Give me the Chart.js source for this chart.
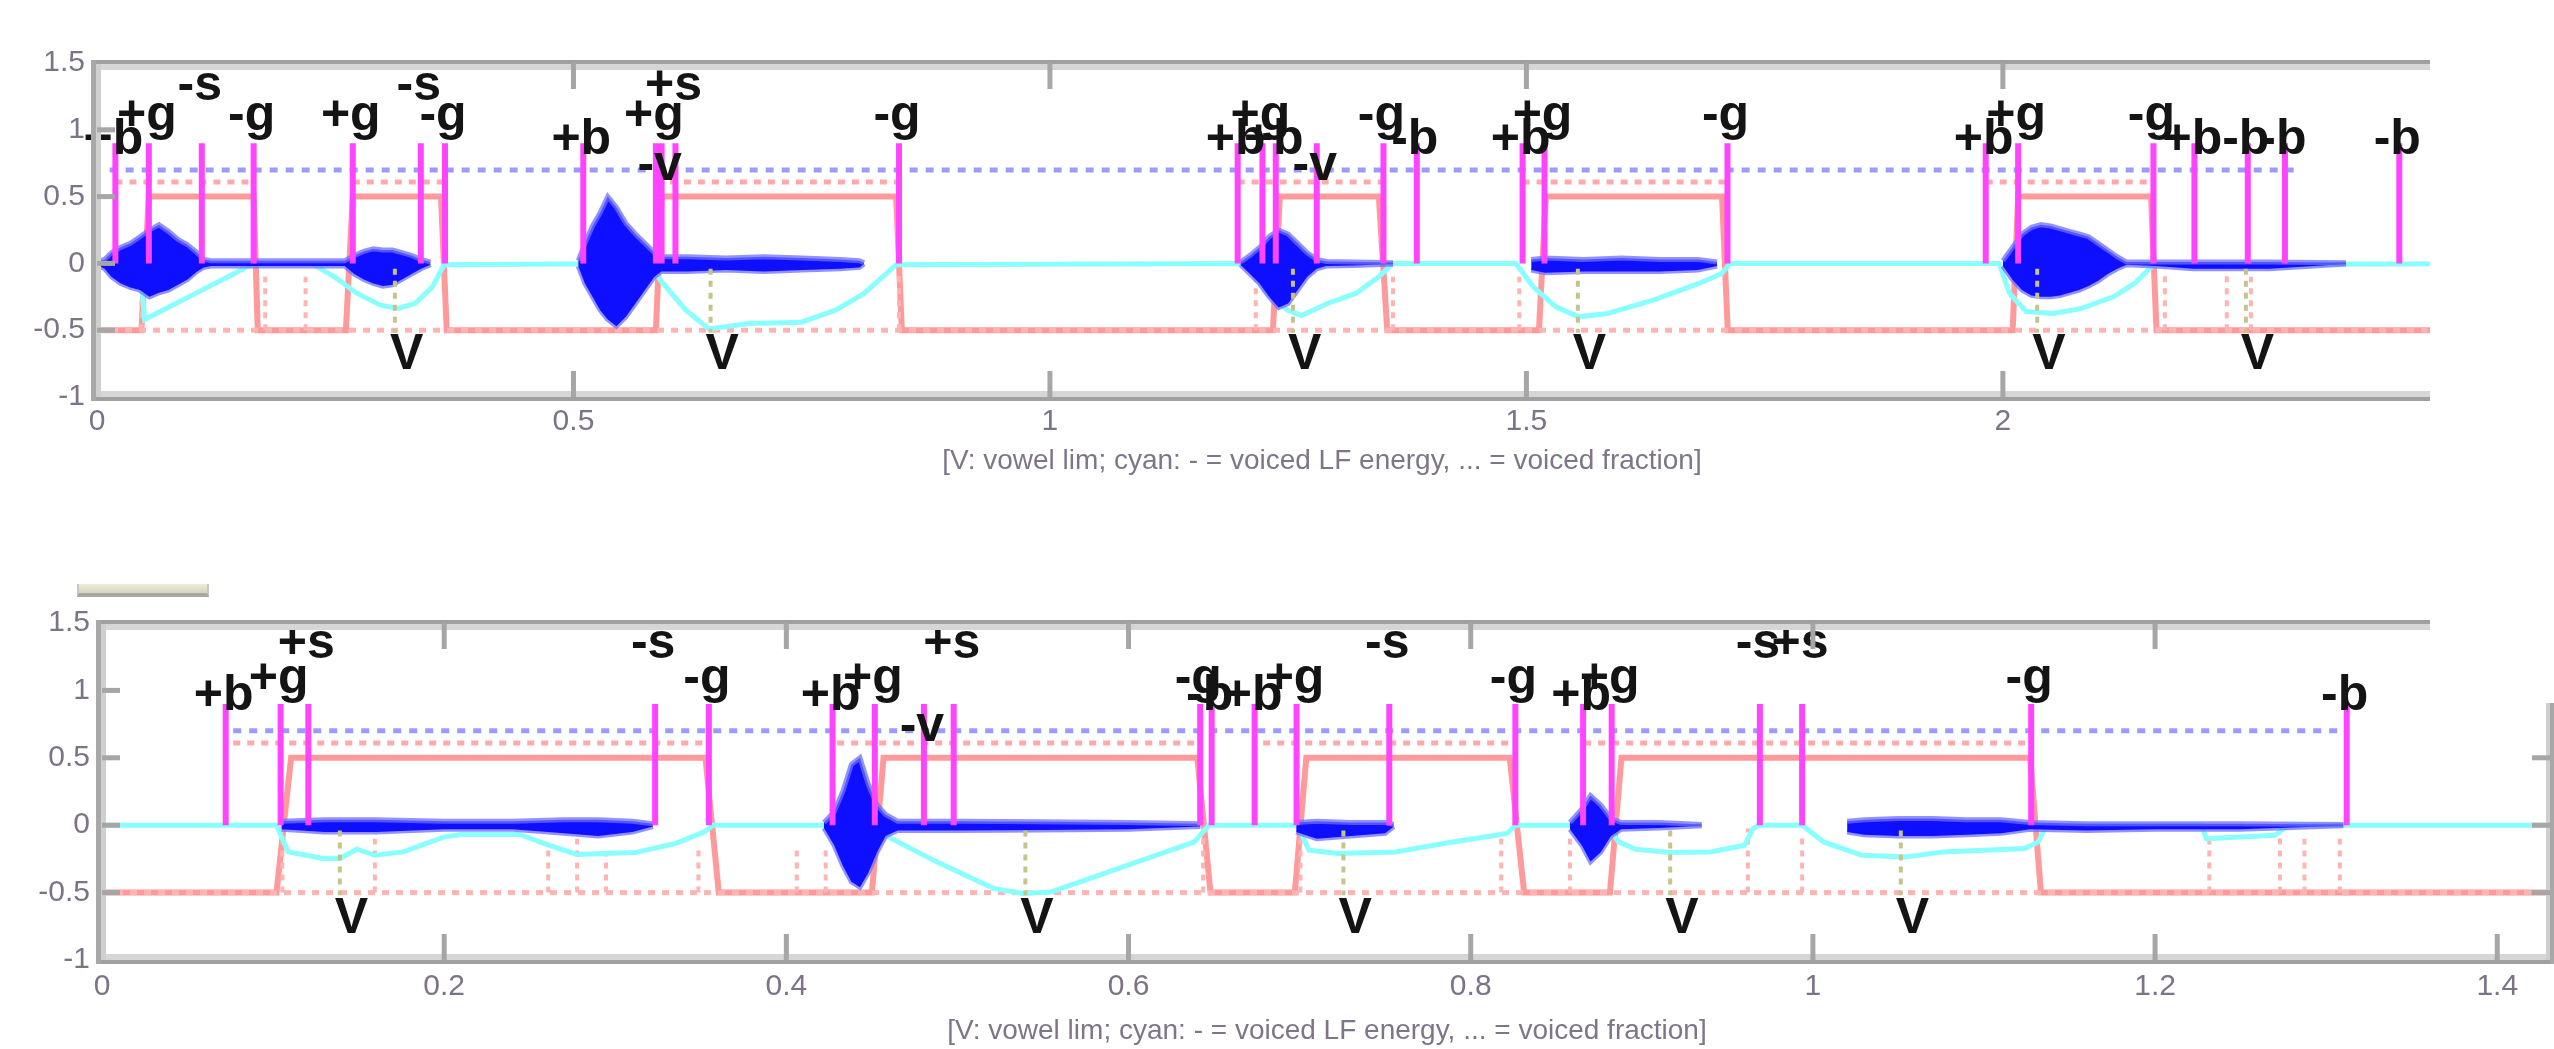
<!DOCTYPE html>
<html><head><meta charset="utf-8">
<script src="https://cdn.jsdelivr.net/npm/chart.js@4.4.1/dist/chart.umd.min.js"></script>
<style>
html,body{margin:0;padding:0;background:#fff;width:2554px;height:1049px;overflow:hidden;position:relative;}
canvas{position:absolute;left:0;}
#c1{top:0;}
#c2{top:520px;}
#mask{position:absolute;left:2430px;top:0;width:124px;height:703px;background:#fff;}
#stub{position:absolute;left:77px;top:584px;width:128px;height:9px;background:linear-gradient(#ececd8,#d4d4c0);border-bottom:4px solid #a8a8a0;border-left:2px solid #c8c8c0;border-right:2px solid #c8c8c0;}
</style></head><body>
<canvas id="c1" width="2554" height="520"></canvas>
<canvas id="c2" width="2554" height="529"></canvas>
<div id="mask"></div><div id="stub"></div>
<script>
// ---------------- data ----------------
const topXTicks = [0, 0.5, 1, 1.5, 2, 2.5];
const botXTicks = [0, 0.2, 0.4, 0.6, 0.8, 1, 1.2, 1.4];
const yTicks = [-1, -0.5, 0, 0.5, 1, 1.5];
const xTitle = '[V: vowel lim; cyan: - = voiced LF energy, ... = voiced fraction]';

const landmarkTop = 0.9;
const refLevel = 0.7;      // blue dotted
const voiceLevel = 0.61;   // red dotted upper
const fracLow = -0.5;      // red dotted lower

// top panel landmarks
const topLmX = [0.0193, 0.0544, 0.110, 0.1644, 0.2684, 0.3398, 0.3652, 0.5103, 0.5865, 0.5925, 0.607, 0.8416,
  1.197, 1.223, 1.237, 1.280, 1.350, 1.385, 1.496, 1.519, 1.711, 1.982, 2.016, 2.158, 2.201, 2.257, 2.296, 2.416];
const topLmLabel = ['+b','+g','-s','-g','+g','-s','-g','+b','+g','-v','+s','-g',
  '+b','+g','+b','-v','-g','-b','+b','+g','-g','+b','+g','-g','+b','-b','-b','-b'];
const topVX = [0.3126, 0.6439, 1.255, 1.554, 2.036, 2.255];
const topRefX = [0.0133, 2.306];
const topVoiceSeg = [[0.0193,0.1644],[0.2684,0.3652],[0.5865,0.8416],[1.197,1.351],[1.496,1.711],[1.982,2.158]];
const topStepX = [0, 0.0466, 0.0544, 0.1644, 0.1687, 0.2612, 0.2684, 0.361, 0.367, 0.5865, 0.5925, 0.8386, 0.8446,
  1.234, 1.2413, 1.3451, 1.354, 1.5132, 1.5204, 1.7053, 1.7113, 2.0103, 2.016, 2.1555, 2.1612, 2.571];
const topStepY = [-0.5,-0.5,0.5,0.5,-0.5,-0.5,0.5,0.5,-0.5,-0.5,0.5,0.5,-0.5,
  -0.5,0.5,0.5,-0.5,-0.5,0.5,0.5,-0.5,-0.5,0.5,0.5,-0.5,-0.5];
const topLfX = [0, 0.045, 0.05, 0.08, 0.11, 0.14, 0.1644, 0.225, 0.249, 0.273, 0.2975, 0.3156, 0.3337, 0.352, 0.364,
  0.5786, 0.594, 0.618, 0.642, 0.684, 0.739, 0.775, 0.805, 0.8386, 1.207, 1.225, 1.249, 1.264, 1.291, 1.321, 1.345, 1.36,
  1.489, 1.507, 1.531, 1.555, 1.585, 1.633, 1.681, 1.705, 1.714, 1.996, 2.007, 2.0245, 2.053, 2.081, 2.116, 2.138, 2.158, 2.571];
const topLfY = [0, 0, -0.42, -0.31, -0.2, -0.09, 0, 0, -0.1, -0.225, -0.3125, -0.3375, -0.3, -0.175, -0.01,
  0, -0.15, -0.35, -0.49, -0.45, -0.44, -0.35, -0.225, -0.01, 0, -0.2, -0.35, -0.39, -0.3, -0.225, -0.1, 0,
  0, -0.175, -0.325, -0.4, -0.375, -0.275, -0.15, -0.075, 0, 0, -0.225, -0.36, -0.375, -0.34, -0.25, -0.15, -0.01, 0];
const topSpikeX = [0.0466, 0.1765, 0.2189, 0.8416, 1.216, 1.36, 1.4925, 2.17, 2.235, 2.2603];
const topSpikeTop = [-0.25, -0.1, -0.1, -0.08, -0.1, -0.1, -0.1, -0.05, -0.05, -0.1];
const topWaveT = [0, 0.008, 0.015, 0.025, 0.035, 0.045, 0.055, 0.065, 0.075, 0.085, 0.095, 0.105, 0.112, 0.12, 0.16, 0.2, 0.24, 0.26, 0.27, 0.28, 0.29, 0.30, 0.31, 0.32, 0.33, 0.34, 0.35, null,
  0.505, 0.512, 0.52, 0.528, 0.536, 0.545, 0.555, 0.565, 0.575, 0.585, 0.592, 0.62, 0.66, 0.70, 0.74, 0.78, 0.80, 0.805, null,
  1.2, 1.21, 1.22, 1.23, 1.24, 1.25, 1.26, 1.27, 1.28, 1.29, 1.32, 1.36, null,
  1.505, 1.52, 1.56, 1.60, 1.64, 1.68, 1.70, null,
  2.0, 2.01, 2.02, 2.03, 2.04, 2.05, 2.06, 2.07, 2.08, 2.09, 2.1, 2.11, 2.12, 2.13, 2.16, 2.2, 2.28, 2.36];
const topWaveHi = [0.01, 0.03, 0.08, 0.12, 0.15, 0.2, 0.25, 0.29, 0.24, 0.18, 0.14, 0.08, 0.03, 0.02, 0.02, 0.02, 0.02, 0.02, 0.06, 0.09, 0.11, 0.1, 0.1, 0.08, 0.06, 0.03, 0.01, null,
  0.02, 0.15, 0.28, 0.38, 0.5, 0.42, 0.3, 0.22, 0.15, 0.08, 0.05, 0.05, 0.04, 0.05, 0.04, 0.03, 0.02, 0.005, null,
  0.01, 0.06, 0.12, 0.2, 0.25, 0.22, 0.15, 0.08, 0.03, 0.015, 0.01, 0.005, null,
  0.03, 0.04, 0.03, 0.04, 0.03, 0.03, 0.01, null,
  0.02, 0.12, 0.22, 0.27, 0.29, 0.28, 0.26, 0.24, 0.22, 0.2, 0.15, 0.1, 0.05, 0.01, 0.01, 0.01, 0.01, 0.005];
const topWaveLo = [-0.01, -0.04, -0.1, -0.15, -0.18, -0.2, -0.25, -0.22, -0.2, -0.16, -0.12, -0.06, -0.03, -0.02, -0.02, -0.02, -0.02, -0.02, -0.08, -0.12, -0.15, -0.17, -0.16, -0.12, -0.08, -0.04, -0.01, null,
  -0.02, -0.15, -0.25, -0.35, -0.42, -0.47, -0.4, -0.3, -0.2, -0.1, -0.06, -0.06, -0.05, -0.06, -0.05, -0.04, -0.03, -0.005, null,
  -0.01, -0.08, -0.15, -0.25, -0.33, -0.3, -0.2, -0.1, -0.04, -0.02, -0.015, -0.005, null,
  -0.05, -0.07, -0.06, -0.06, -0.06, -0.05, -0.02, null,
  -0.02, -0.12, -0.2, -0.24, -0.25, -0.25, -0.24, -0.22, -0.2, -0.17, -0.13, -0.08, -0.04, -0.01, -0.02, -0.04, -0.04, -0.005];

// bottom panel
const botLmX = [0.0723, 0.1044, 0.1206, 0.3233, 0.3547, 0.427, 0.4517, 0.4804, 0.4978, 0.6419, 0.6486, 0.6737, 0.6982,
  0.7524, 0.8261, 0.8657, 0.8824, 0.969, 0.9937, 1.1276, 1.312];
const botLmLabel = ['+b','+g','+s','-s','-g','+b','+g','-v','+s','-g','-b','+b','+g','-s','-g','+b','+g','-s','+s','-g','-b'];
const botVX = [0.139, 0.5397, 0.7256, 0.9166, 1.0514];
const botRefX = [0.0767, 1.3117];
const botVoiceSeg = [[0.0767,0.3537],[0.4297,0.6419],[0.6787,0.8228],[0.8663,1.127]];
const botStepX = [0, 0.102, 0.1105, 0.3527, 0.3605, 0.45, 0.4568, 0.6402, 0.6479, 0.6972, 0.7039, 0.8228, 0.8312, 0.8814, 0.8881, 1.127, 1.1333, 1.432];
const botStepY = [-0.5,-0.5,0.5,0.5,-0.5,-0.5,0.5,0.5,-0.5,-0.5,0.5,0.5,-0.5,-0.5,0.5,0.5,-0.5,-0.5];
const botLfX = [0, 0.102, 0.1088, 0.129, 0.139, 0.149, 0.1595, 0.176, 0.2, 0.21, 0.244, 0.261, 0.2777, 0.3115, 0.335, 0.352, 0.357,
  0.451, 0.4576, 0.4878, 0.5213, 0.538, 0.5548, 0.5883, 0.6218, 0.6385, 0.6452, 0.647,
  0.6988, 0.7055, 0.7223, 0.7558, 0.7893, 0.8211, 0.8261,
  0.8797, 0.8864, 0.8965, 0.9166, 0.94, 0.9601, 0.965, 0.968,
  0.9937, 1.0063, 1.0286, 1.054, 1.0762, 1.1238, 1.1317, 1.1365,
  1.227, 1.23, 1.25, 1.27, 1.278, 1.432];
const botLfY = [0, 0, -0.198, -0.2475, -0.2475, -0.178, -0.223, -0.198, -0.087, -0.069, -0.069, -0.1485, -0.218, -0.203, -0.136, -0.05, 0,
  0, -0.074, -0.272, -0.47, -0.507, -0.495, -0.347, -0.198, -0.124, -0.025, 0,
  0, -0.186, -0.21, -0.198, -0.124, -0.062, 0,
  0, -0.124, -0.178, -0.203, -0.198, -0.1485, -0.025, 0,
  0, -0.124, -0.223, -0.235, -0.198, -0.173, -0.124, 0,
  0, -0.1, -0.087, -0.074, 0, 0];
const botSpikeX = [0.1054, 0.1595, 0.2608, 0.2777, 0.2946, 0.3486, 0.4061, 0.423, 0.6436, 0.7005, 0.8178, 0.858, 0.962, 0.9937, 1.2317, 1.273, 1.2873, 1.308];
const botSpikeTop = [-0.025, -0.1, -0.15, -0.1, -0.2, -0.15, -0.15, -0.15, -0.025, -0.025, -0.07, -0.1, -0.025, -0.07, -0.1, -0.07, -0.1, -0.1];
const botWaveT = [0.105, 0.13, 0.16, 0.2, 0.24, 0.27, 0.29, 0.31, 0.322, null,
  0.422, 0.428, 0.433, 0.438, 0.443, 0.448, 0.453, 0.458, 0.465, 0.5, 0.55, 0.6, 0.642, null,
  0.698, 0.71, 0.73, 0.75, 0.755, null,
  0.858, 0.865, 0.87, 0.876, 0.882, 0.888, 0.91, 0.935, null,
  1.02, 1.03, 1.05, 1.07, 1.09, 1.11, 1.127, 1.16, 1.2, 1.25, 1.31];
const botWaveHi = [0.03, 0.04, 0.04, 0.03, 0.03, 0.04, 0.04, 0.03, 0.01, null,
  0.02, 0.1, 0.25, 0.45, 0.5, 0.3, 0.15, 0.08, 0.03, 0.03, 0.025, 0.02, 0.01, null,
  0.02, 0.03, 0.02, 0.02, 0.005, null,
  0.02, 0.12, 0.22, 0.15, 0.05, 0.02, 0.02, 0.005, null,
  0.03, 0.04, 0.05, 0.05, 0.04, 0.04, 0.02, 0.01, 0.01, 0.01, 0.005];
const botWaveLo = [-0.03, -0.05, -0.05, -0.03, -0.03, -0.06, -0.08, -0.05, -0.01, null,
  -0.02, -0.15, -0.3, -0.42, -0.46, -0.35, -0.2, -0.08, -0.04, -0.04, -0.035, -0.03, -0.01, null,
  -0.05, -0.1, -0.08, -0.06, -0.01, null,
  -0.03, -0.15, -0.27, -0.2, -0.08, -0.03, -0.02, -0.005, null,
  -0.05, -0.07, -0.08, -0.08, -0.07, -0.06, -0.03, -0.04, -0.03, -0.03, -0.005];

// ---------------- builders ----------------
function pts(xs, ys) { return xs.map((v, i) => ({x: v, y: ys[i]})); }
function vlines(xs, y0, y1s) {
  const p = [];
  xs.forEach((v, i) => { const y1 = Array.isArray(y1s) ? y1s[i] : y1s; p.push({x: v, y: y0}, {x: v, y: y1}, {x: v, y: null}); });
  return p;
}
function hsegs(segs, yv) {
  const p = [];
  segs.forEach(s => { p.push({x: s[0], y: yv}, {x: s[1], y: yv}, {x: s[1], y: null}); });
  return p;
}
function waveSets(t, hi, lo) {
  const out = []; let h = [], l = [];
  const flush = () => {
    if (h.length) {
      out.push({data: h, fill: '+1', backgroundColor: '#0f0fff', borderColor: 'rgba(110,110,255,0.75)', borderWidth: 5, pointRadius: 0, order: 4});
      out.push({data: l, fill: false, borderColor: 'rgba(110,110,255,0.75)', borderWidth: 5, pointRadius: 0, order: 4});
    }
    h = []; l = [];
  };
  for (let i = 0; i < t.length; i++) {
    if (t[i] === null) { flush(); continue; }
    h.push({x: t[i], y: hi[i]}); l.push({x: t[i], y: lo[i]});
  }
  flush();
  return out;
}

function axesPlugin(cfg) {
  return {
    id: 'matlabAxes',
    afterDatasetsDraw(chart) {
      const {ctx, scales: {x, y}} = chart;
      ctx.save();
      ctx.fillStyle = '#141414';
      ctx.font = 'bold 50px "Liberation Sans", Arial, sans-serif';
      ctx.textBaseline = 'middle';
      ctx.textAlign = 'center';
      cfg.lmX.forEach((v, i) => {
        const lab = cfg.lmLabel[i];
        ctx.fillText(lab, x.getPixelForValue(v) - 2, y.getPixelForValue(cfg.tier[lab[1]]));
      });
      ctx.textAlign = 'left';
      cfg.vX.forEach(v => ctx.fillText('V', x.getPixelForValue(v) - 5, y.getPixelForValue(cfg.vTier)));
      ctx.restore();
    },
    afterDraw(chart) {
      const {ctx, chartArea: a, scales: {x, y}} = chart;
      ctx.save();
      const dark = '#a0a0a0', light = '#d6d6d6';
      ctx.fillStyle = dark; ctx.fillRect(a.left - 6, a.top - 3, a.right - a.left + 8, 4);
      ctx.fillStyle = light; ctx.fillRect(a.left, a.top + 1, a.right - a.left, 6);
      ctx.fillStyle = light; ctx.fillRect(a.left, a.bottom - 6, a.right - a.left, 6);
      ctx.fillStyle = dark; ctx.fillRect(a.left - 6, a.bottom, a.right - a.left + 8, 4);
      ctx.fillStyle = '#a8a8a8'; ctx.fillRect(a.left - 6, a.top - 3, 5, a.bottom - a.top + 7);
      ctx.fillStyle = '#cfcfcf'; ctx.fillRect(a.left - 1, a.top + 1, 5, a.bottom - a.top - 1);
      ctx.fillStyle = '#cfcfcf'; ctx.fillRect(a.right - 6, a.top + 1, 4, a.bottom - a.top - 1);
      ctx.fillStyle = '#a8a8a8'; ctx.fillRect(a.right - 2, a.top - 3, 4, a.bottom - a.top + 7);
      ctx.fillStyle = '#a6a6a6';
      cfg.xTicks.forEach(v => {
        if (v <= x.min || v >= x.max) return;
        const px = x.getPixelForValue(v);
        ctx.fillRect(px - 2.5, a.top, 5, 26);
        ctx.fillRect(px - 2.5, a.bottom - 26, 5, 26);
      });
      yTicks.forEach(v => {
        if (v <= y.min || v >= y.max) return;
        const py = y.getPixelForValue(v);
        ctx.fillRect(a.left, py - 2.5, 18, 5);
        ctx.fillRect(a.right - 20, py - 2.5, 18, 5);
      });
      ctx.fillStyle = '#7c7486';
      ctx.font = '30px "Liberation Sans", Arial, sans-serif';
      ctx.textBaseline = 'middle';
      ctx.textAlign = 'center';
      cfg.xTicks.forEach(v => {
        if (v > x.max) return;
        ctx.fillText(String(v), x.getPixelForValue(v), a.bottom + cfg.tickOff);
      });
      ctx.textAlign = 'right';
      yTicks.forEach(v => ctx.fillText(String(v), a.left - 12, y.getPixelForValue(v)));
      ctx.fillStyle = '#7e7688';
      ctx.font = '28px "Liberation Sans", Arial, sans-serif';
      ctx.textAlign = 'center';
      ctx.fillText(xTitle, (a.left + a.right) / 2, a.bottom + cfg.titleOff);
      ctx.restore();
    }
  };
}

function makeChart(id, cfg) {
  const datasets = [
    {data: vlines(cfg.lmX, 0, landmarkTop), borderColor: '#ff44ff', borderWidth: 6, pointRadius: 0, order: 0},
    {data: vlines(cfg.vX, -0.04, -0.52), borderColor: '#c4c48c', borderWidth: 4, borderDash: [6, 6], pointRadius: 0, order: 1},
    {data: hsegs([cfg.refX], refLevel), borderColor: '#9a9aff', borderWidth: 5, borderDash: [8, 8], pointRadius: 0, order: 2},
    ...waveSets(cfg.waveT, cfg.waveHi, cfg.waveLo),
    {data: pts(cfg.lfX, cfg.lfY), borderColor: '#8affff', borderWidth: 5, pointRadius: 0, order: 5},
    {data: hsegs(cfg.voiceSeg, voiceLevel), borderColor: '#ffaaaa', borderWidth: 5, borderDash: [7, 7], pointRadius: 0, order: 6},
    {data: vlines(cfg.spikeX, fracLow, cfg.spikeTop), borderColor: '#ffb4b4', borderWidth: 4, borderDash: [6, 6], pointRadius: 0, order: 7},
    {data: hsegs([[0, cfg.xmax]], fracLow), borderColor: '#ffb4b4', borderWidth: 5, borderDash: [7, 7], pointRadius: 0, order: 8},
    {data: pts(cfg.stepX, cfg.stepY), borderColor: '#ff9a9a', borderWidth: 6, pointRadius: 0, order: 9}
  ];
  return new Chart(document.getElementById(id), {
    type: 'line',
    data: {datasets},
    options: {
      responsive: false, animation: false, devicePixelRatio: 1,
      layout: {padding: cfg.pad},
      scales: {
        x: {type: 'linear', min: 0, max: cfg.xmax, display: false},
        y: {type: 'linear', min: -1, max: 1.5, display: false}
      },
      plugins: {legend: {display: false}, tooltip: {enabled: false}},
      elements: {line: {tension: 0}, point: {radius: 0}}
    },
    plugins: [axesPlugin(cfg)]
  });
}

makeChart('c1', {
  pad: {left: 97, right: 7, top: 63, bottom: 123}, xmax: 2.571, tickOff: 25, titleOff: 64,
  xTicks: topXTicks, lmX: topLmX, lmLabel: topLmLabel, vX: topVX, refX: topRefX, voiceSeg: topVoiceSeg,
  stepX: topStepX, stepY: topStepY, lfX: topLfX, lfY: topLfY, spikeX: topSpikeX, spikeTop: topSpikeTop,
  waveT: topWaveT, waveHi: topWaveHi, waveLo: topWaveLo,
  tier: {b: 0.925, g: 1.1, s: 1.325, v: 0.725}, vTier: -0.69
});
makeChart('c2', {
  pad: {left: 102, right: 2, top: 103, bottom: 89}, xmax: 1.432, tickOff: 27, titleOff: 71,
  xTicks: botXTicks, lmX: botLmX, lmLabel: botLmLabel, vX: botVX, refX: botRefX, voiceSeg: botVoiceSeg,
  stepX: botStepX, stepY: botStepY, lfX: botLfX, lfY: botLfY, spikeX: botSpikeX, spikeTop: botSpikeTop,
  waveT: botWaveT, waveHi: botWaveHi, waveLo: botWaveLo,
  tier: {b: 0.955, g: 1.08, s: 1.34, v: 0.73}, vTier: -0.70
});
</script></body></html>
